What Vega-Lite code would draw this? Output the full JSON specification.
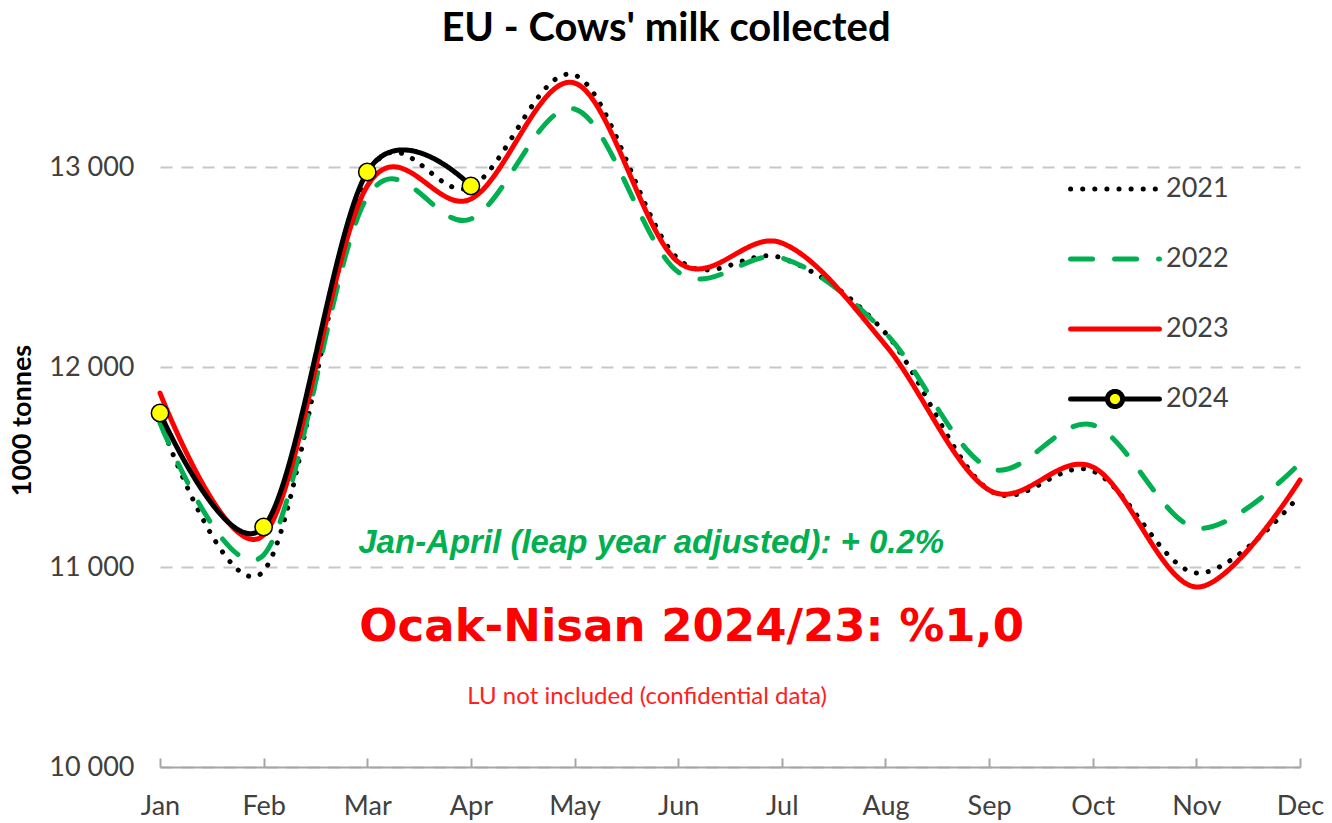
{
  "$schema": "https://vega.github.io/schema/vega-lite/v6.json",
  "width": 1140,
  "height": 710,
  "autosize": {"type": "none"},
  "padding": {"left": 160, "top": 57, "right": 32, "bottom": 56},
  "background": "white",
  "title": {
    "text": "EU - Cows' milk collected",
    "font": "Lato",
    "fontSize": 40,
    "fontWeight": "bold",
    "color": "#000000",
    "anchor": "middle",
    "dx": -64,
    "offset": 8
  },
  "config": {
    "view": {"stroke": null},
    "font": "Lato"
  },
  "datasets": {
    "milk": [
      {"month": 1, "year": "2021", "value": 11730},
      {"month": 2, "year": "2021", "value": 10980},
      {"month": 3, "year": "2021", "value": 12960},
      {"month": 4, "year": "2021", "value": 12900},
      {"month": 5, "year": "2021", "value": 13460},
      {"month": 6, "year": "2021", "value": 12540},
      {"month": 7, "year": "2021", "value": 12545},
      {"month": 8, "year": "2021", "value": 12170},
      {"month": 9, "year": "2021", "value": 11385},
      {"month": 10, "year": "2021", "value": 11480},
      {"month": 11, "year": "2021", "value": 10970},
      {"month": 12, "year": "2021", "value": 11360},
      {"month": 1, "year": "2022", "value": 11720},
      {"month": 2, "year": "2022", "value": 11060},
      {"month": 3, "year": "2022", "value": 12850},
      {"month": 4, "year": "2022", "value": 12740},
      {"month": 5, "year": "2022", "value": 13290},
      {"month": 6, "year": "2022", "value": 12475},
      {"month": 7, "year": "2022", "value": 12545},
      {"month": 8, "year": "2022", "value": 12170},
      {"month": 9, "year": "2022", "value": 11495},
      {"month": 10, "year": "2022", "value": 11710},
      {"month": 11, "year": "2022", "value": 11195},
      {"month": 12, "year": "2022", "value": 11520},
      {"month": 1, "year": "2023", "value": 11870},
      {"month": 2, "year": "2023", "value": 11160},
      {"month": 3, "year": "2023", "value": 12905},
      {"month": 4, "year": "2023", "value": 12840},
      {"month": 5, "year": "2023", "value": 13420},
      {"month": 6, "year": "2023", "value": 12525},
      {"month": 7, "year": "2023", "value": 12620},
      {"month": 8, "year": "2023", "value": 12110},
      {"month": 9, "year": "2023", "value": 11385},
      {"month": 10, "year": "2023", "value": 11500},
      {"month": 11, "year": "2023", "value": 10900},
      {"month": 12, "year": "2023", "value": 11435},
      {"month": 1, "year": "2024", "value": 11770},
      {"month": 2, "year": "2024", "value": 11200},
      {"month": 3, "year": "2024", "value": 12975},
      {"month": 4, "year": "2024", "value": 12905}
    ]
  },
  "layer": [
    {
      "data": {"name": "milk"},
      "mark": {"type": "line", "interpolate": "cardinal", "strokeWidth": 5, "strokeCap": "round", "strokeJoin": "round"},
      "encoding": {
        "x": {
          "field": "month",
          "type": "quantitative",
          "scale": {"domain": [1, 12], "nice": false, "zero": false},
          "axis": {
            "values": [1, 2, 3, 4, 5, 6, 7, 8, 9, 10, 11, 12],
            "labelExpr": "['Jan','Feb','Mar','Apr','May','Jun','Jul','Aug','Sep','Oct','Nov','Dec'][datum.value - 1]",
            "title": null,
            "grid": false,
            "domainColor": "#a6a6a6",
            "domainWidth": 2,
            "tickColor": "#a6a6a6",
            "tickWidth": 2,
            "tickSize": -9,
            "labelPadding": 35,
            "labelFont": "Lato",
            "labelFontSize": 27,
            "labelColor": "#404040",
            "labelFlush": false,
            "labelBound": false,
            "labelOverlap": false
          }
        },
        "y": {
          "field": "value",
          "type": "quantitative",
          "scale": {"domain": [10000, 13550], "nice": false, "zero": false},
          "axis": {
            "values": [10000, 11000, 12000, 13000],
            "labelExpr": "replace(format(datum.value, ','), ',', ' ')",
            "grid": true,
            "gridColor": "#c8c8c8",
            "gridWidth": 2,
            "gridDash": [12, 9],
            "domain": false,
            "ticks": false,
            "labelPadding": 26,
            "labelFont": "Lato",
            "labelFontSize": 27,
            "labelColor": "#404040",
            "title": "1000 tonnes",
            "titleFont": "Lato",
            "titleFontSize": 27,
            "titleFontWeight": "bold",
            "titleColor": "#000000",
            "titleX": -138,
            "titleY": 363,
            "titleBaseline": "middle",
            "titleAlign": "center",
            "titleAngle": -90
          }
        },
        "color": {
          "field": "year",
          "type": "nominal",
          "scale": {"domain": ["2021", "2022", "2023", "2024"], "range": ["#000000", "#00b050", "#ff0000", "#000000"]},
          "legend": {
            "title": null,
            "orient": "none",
            "legendX": 908,
            "legendY": 117,
            "padding": 0,
            "symbolType": "stroke",
            "symbolSize": 7900,
            "symbolStrokeWidth": 5,
            "clipHeight": 30,
            "rowPadding": 40,
            "labelOffset": 4,
            "labelFont": "Lato",
            "labelFontSize": 27,
            "labelColor": "#404040",
            "encode": {
              "symbols": {
                "update": {
                  "shape": {"signal": "datum.value === '2024' ? 'M-1,0L-0.17,0M0.17,0L1,0M0.17,0A0.17,0.17,0,1,1,-0.17,0A0.17,0.17,0,1,1,0.17,0Z' : 'stroke'"},
                  "fill": {"signal": "datum.value === '2024' ? '#ffff00' : 'transparent'"},
                  "strokeDash": {"signal": "datum.value === '2021' ? [0.1, 16.5] : datum.value === '2022' ? [26, 33] : [1, 0]"},
                  "strokeCap": {"value": "round"}
                }
              }
            }
          }
        },
        "strokeDash": {
          "field": "year",
          "type": "nominal",
          "scale": {"domain": ["2021", "2022", "2023", "2024"], "range": [[0.1, 12], [22, 22], [1, 0], [1, 0]]},
          "legend": null
        }
      }
    },
    {
      "data": {"name": "milk"},
      "transform": [{"filter": "datum.year === '2024'"}],
      "mark": {"type": "point", "filled": true, "fill": "#ffff00", "stroke": "#000000", "strokeWidth": 1.5, "size": 300, "opacity": 1},
      "encoding": {
        "x": {"field": "month", "type": "quantitative"},
        "y": {"field": "value", "type": "quantitative"}
      }
    },
    {
      "data": {"values": [{"mx": 5.74, "vy": 11120, "label": "Jan-April (leap year adjusted): + 0.2%"}]},
      "mark": {"type": "text", "font": "Liberation Sans", "fontSize": 33, "fontWeight": "bold", "fontStyle": "italic", "color": "#00b050", "align": "center", "baseline": "middle"},
      "encoding": {
        "x": {"field": "mx", "type": "quantitative"},
        "y": {"field": "vy", "type": "quantitative"},
        "text": {"field": "label"}
      }
    },
    {
      "data": {"values": [{"mx": 6.13, "vy": 10700, "label": "Ocak-Nisan 2024/23: %1,0"}]},
      "mark": {"type": "text", "font": "DejaVu Sans", "fontSize": 45, "fontWeight": "bold", "color": "#ff0000", "align": "center", "baseline": "middle"},
      "encoding": {
        "x": {"field": "mx", "type": "quantitative"},
        "y": {"field": "vy", "type": "quantitative"},
        "text": {"field": "label"}
      }
    },
    {
      "data": {"values": [{"mx": 5.70, "vy": 10350, "label": "LU not included (confidential data)"}]},
      "mark": {"type": "text", "font": "Lato", "fontSize": 24, "color": "#ff2020", "align": "center", "baseline": "middle"},
      "encoding": {
        "x": {"field": "mx", "type": "quantitative"},
        "y": {"field": "vy", "type": "quantitative"},
        "text": {"field": "label"}
      }
    }
  ]
}
